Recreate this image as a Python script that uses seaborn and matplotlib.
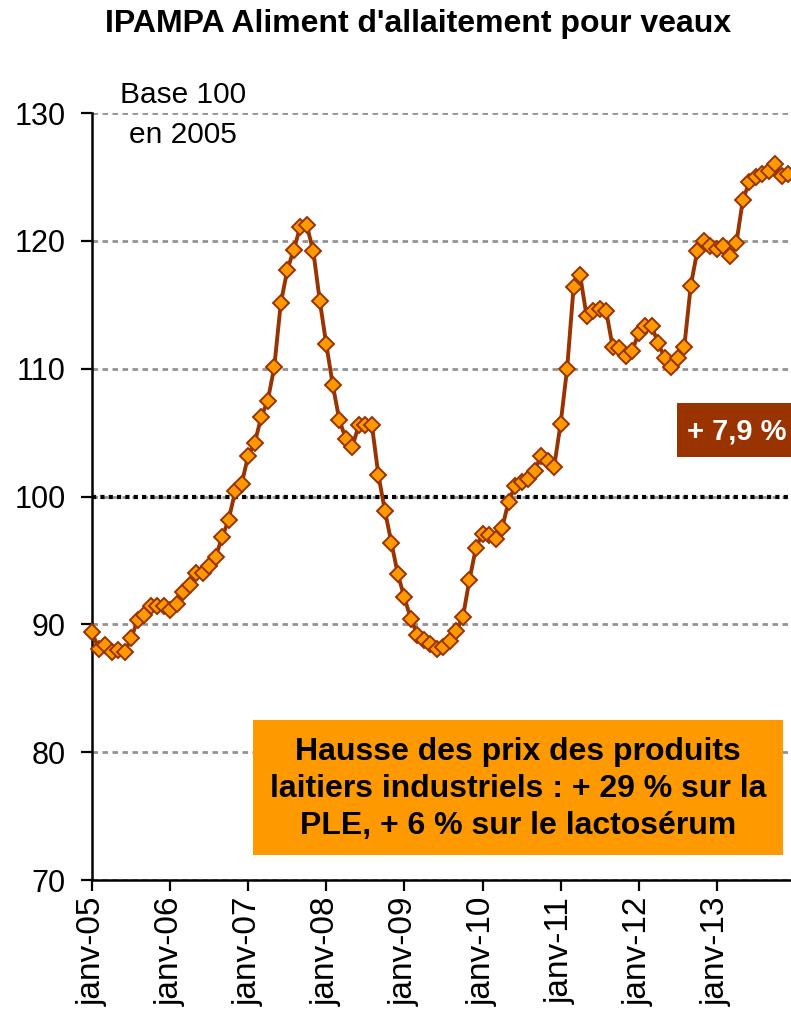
import numpy as np
import pandas as pd
import matplotlib
matplotlib.use("Agg")
import matplotlib.pyplot as plt
import matplotlib.patches as mpatches
import seaborn as sns

# --- data ---
months = pd.date_range("2005-01-01", periods=108, freq="MS")
values = [
    89.4, 88.1, 88.4, 87.8, 88.0, 87.8, 88.9, 90.3, 90.7, 91.4, 91.4, 91.4,
    91.1, 91.6, 92.5, 93.1, 94.0, 94.0, 94.6, 95.3, 96.8, 98.2, 100.4, 101.0,
    103.2, 104.2, 106.2, 107.5, 110.1, 115.1, 117.7, 119.3, 121.1, 121.2, 119.2, 115.3,
    111.9, 108.7, 106.0, 104.5, 103.9, 105.6, 105.6, 105.6, 101.7, 98.9, 96.4, 93.9,
    92.1, 90.4, 89.2, 88.8, 88.5, 88.1, 88.2, 88.7, 89.5, 90.6, 93.5, 96.0,
    97.1, 97.0, 96.7, 97.5, 99.6, 100.8, 101.1, 101.4, 102.0, 103.2, 102.8, 102.3,
    105.7, 110.0, 116.4, 117.3, 114.1, 114.5, 114.7, 114.5, 111.7, 111.6, 111.0, 111.4,
    112.8, 113.3, 113.3, 112.0, 110.8, 110.1, 110.8, 111.7, 116.5, 119.2, 120.0, 119.6,
    119.4, 119.6, 118.8, 119.8, 123.2, 124.6, 125.0, 125.2, 125.5, 126.0, 125.1, 125.2,
]
tick_labels = ["janv-05", "janv-06", "janv-07", "janv-08", "janv-09",
               "janv-10", "janv-11", "janv-12", "janv-13"]
y_ticks = [70, 80, 90, 100, 110, 120, 130]

title = "IPAMPA Aliment d'allaitement pour veaux"
base_text = "Base 100\nen 2005"
box_text = "Hausse des prix des produits\nlaitiers industriels : + 29 % sur la\nPLE, + 6 % sur le lactosérum"
pct_text = "+ 7,9 %"

df = pd.DataFrame({"date": months, "value": values})
df["idx"] = np.arange(len(df))
tick_pos = df.loc[df["date"].dt.month == 1, "idx"].tolist()

# --- style ---
sns.set_theme(style="white")
plt.rcParams["font.family"] = ["Liberation Sans", "DejaVu Sans"]

W, H = 791, 1009
fig = plt.figure(figsize=(W / 100, H / 100), dpi=100)
ax = fig.add_axes([92 / W, 1 - 880 / H, 1 - 92 / W, (880 - 113) / H])

ax.set_ylim(70, 130)
ax.set_xlim(0, 107.4)

ax.set_yticks(y_ticks)
ax.yaxis.grid(True, color="#939393", linestyle=(0, (2.0, 1.6)), linewidth=2.0)
ax.xaxis.grid(False)
ax.set_axisbelow(True)
ax.axhline(100, color="black", linewidth=3.0, linestyle=(0, (1.0, 1.0)), zorder=2)

sns.lineplot(data=df, x="idx", y="value", ax=ax, color="#993300",
             linewidth=2.8, marker="D", markersize=8.3,
             markerfacecolor="#FF9900", markeredgecolor="#993300",
             markeredgewidth=1.4, clip_on=False, zorder=5)

for s in ["top", "right"]:
    ax.spines[s].set_visible(False)
for s in ["left", "bottom"]:
    ax.spines[s].set_color("black")
    ax.spines[s].set_linewidth(1.8)

ax.set_xticks(tick_pos)
ax.set_xticklabels(tick_labels, rotation=90, va="top", ha="center")
ax.tick_params(axis="both", which="major", direction="out", length=8, width=1.6,
               color="black", labelcolor="black", bottom=True, left=True)
ax.tick_params(axis="y", pad=11, labelsize=22)
ax.tick_params(axis="x", pad=4, labelsize=24)
ax.set_xlabel("")
ax.set_ylabel("")

def fx(px):
    return px / W

def fy(py):
    return 1 - py / H

fig.text(fx(418), fy(24), title, ha="center", va="center",
         fontsize=23, fontweight="bold", color="black")

fig.text(fx(183), fy(115), base_text, ha="center", va="center",
         fontsize=21.5, color="black", linespacing=1.55)

# orange annotation box
fig.patches.append(mpatches.Rectangle((fx(253), fy(855)), fx(783) - fx(253),
                                      fy(720) - fy(855), transform=fig.transFigure,
                                      facecolor="#FF9900", edgecolor="none", zorder=6))
fig.text(fx(518), fy(789), box_text, ha="center", va="center", fontsize=23,
         fontweight="bold", color="black", linespacing=1.3, zorder=7)

# brown percentage box
fig.patches.append(mpatches.Rectangle((fx(677), fy(457)), fx(791) - fx(677),
                                      fy(403) - fy(457), transform=fig.transFigure,
                                      facecolor="#993300", edgecolor="none", zorder=6))
fig.text(fx(737), fy(431), pct_text, ha="center", va="center", fontsize=21,
         fontweight="bold", color="white", zorder=7)

fig.savefig("out.png", dpi=100)
